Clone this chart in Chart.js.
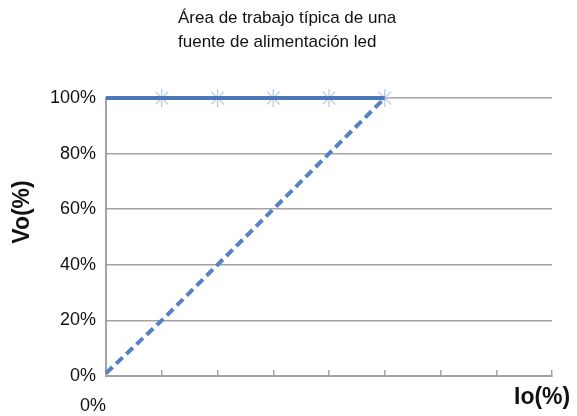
<!DOCTYPE html>
<html>
<head>
<meta charset="utf-8">
<script src="https://cdn.jsdelivr.net/npm/chart.js@4.4.1/dist/chart.umd.min.js"></script>
<style>
  html, body { margin: 0; padding: 0; background: #fff; }
  #wrap { width: 577px; height: 416px; }
</style>
</head>
<body>
<div id="wrap"><canvas id="myChart"></canvas></div>
<script>
// values
const xSteps = [0, 1, 2, 3, 4, 5];
const ratedVo = [100, 100, 100, 100, 100, 100];
const rampVo = [1, 20, 40, 60, 80, 100];
const markerSteps = [1, 2, 3, 4, 5];
const markerVo = [100, 100, 100, 100, 100];
const yTicks = [0, 20, 40, 60, 80, 100];
const titleLines = ['Área de trabajo típica de una', 'fuente de alimentación led'];
const xTitle = 'Io(%)';
const yTitle = 'Vo(%)';

const blue = '#4a78b8';
const starBlue = '#b7c8e0';
const gray = '#a3a3a3';
const fontName = '"Liberation Sans", Arial, sans-serif';

const toPoints = (xs, ys) => xs.map((x, i) => ({ x: x, y: ys[i] }));

// extra texts: chart title and the two axis names
const textPlugin = {
    id: 'sideTexts',
    afterDraw(chart) {
        const c = chart.ctx;
        const xs = chart.scales.x;
        const ys = chart.scales.y;
        c.save();
        c.fillStyle = '#111';
        c.font = '17px ' + fontName;
        c.textAlign = 'left';
        c.textBaseline = 'alphabetic';
        c.fillText(titleLines[0], 178, 23);
        c.fillText(titleLines[1], 178, 47);

        c.font = 'bold 23px ' + fontName;
        c.fillText(xTitle, xs.right - 38, xs.top + 28);

        c.translate(xs.left - 77, ys.top + 114);
        c.rotate(-Math.PI / 2);
        c.textAlign = 'center';
        c.fillText(yTitle, 0, 0);
        c.restore();
    }
};

const ctx = document.getElementById('myChart').getContext('2d');

const myChart = new Chart(ctx, {
    type: 'line',
    data: {
        datasets: [{
            label: 'markers',
            data: toPoints(markerSteps, markerVo),
            showLine: false,
            pointStyle: 'star',
            pointRadius: 9,
            pointBorderColor: starBlue,
            pointBorderWidth: 1.2,
            clip: false,
            order: 3
        },
        {
            label: 'ramp',
            data: toPoints(xSteps, rampVo),
            borderColor: '#5383c2',
            borderWidth: 4,
            borderDash: [9, 5],
            pointRadius: 0,
            clip: false,
            order: 2
        },
        {
            label: 'rated',
            data: toPoints(xSteps, ratedVo),
            borderColor: blue,
            borderWidth: 4,
            pointRadius: 0,
            clip: false,
            order: 1
        }]
    },
    options: {
        responsive: true,
        maintainAspectRatio: false,
        animation: false,
        layout: {
            padding: { top: 98, right: 20, left: 0, bottom: 0 }
        },
        plugins: {
            legend: { display: false },
            tooltip: { enabled: false }
        },
        scales: {
            x: {
                type: 'linear',
                min: 0,
                max: 8,
                afterFit(scale) { scale.height = 40; },
                afterBuildTicks(scale) {
                    scale.ticks = [0, 1, 2, 3, 4, 5, 6, 7, 8].map(v => ({ value: v }));
                },
                ticks: {
                    autoSkip: false,
                    maxRotation: 0,
                    align: 'end',
                    padding: 25,
                    color: '#111',
                    font: { family: fontName, size: 18 },
                    callback: v => (v === 0 ? '0%' : '')
                },
                grid: {
                    drawOnChartArea: false,
                    tickLength: -6,
                    color: gray,
                    lineWidth: 1.5
                },
                border: { color: gray, width: 2 }
            },
            y: {
                min: 0,
                max: 100,
                afterFit(scale) { scale.width = 106; },
                afterBuildTicks(scale) {
                    scale.ticks = yTicks.map(v => ({ value: v }));
                },
                ticks: {
                    padding: 10,
                    color: '#111',
                    font: { family: fontName, size: 18 },
                    callback: v => v + '%'
                },
                grid: {
                    drawTicks: false,
                    color: gray,
                    lineWidth: 1.5
                },
                border: { color: gray, width: 2 }
            }
        }
    },
    plugins: [textPlugin]
});
</script>
</body>
</html>
